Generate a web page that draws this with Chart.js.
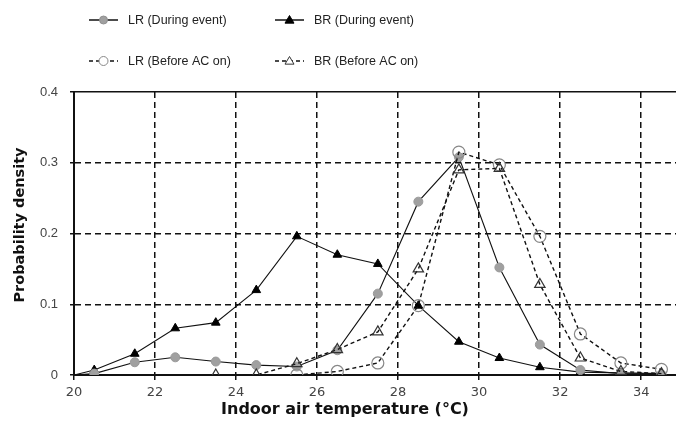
<!DOCTYPE html>
<html>
<head>
<meta charset="utf-8">
<script src="https://cdn.jsdelivr.net/npm/chart.js@4.4.1/dist/chart.umd.min.js"></script>
<style>
  html, body { margin: 0; padding: 0; background: #fff; }
  #wrap { width: 676px; height: 428px; position: relative; }
</style>
</head>
<body>
<div id="wrap"><canvas id="pdfChart"></canvas></div>
<script>
// values (temperature bin centres, °C)
const temps = [20, 20.5, 21.5, 22.5, 23.5, 24.5, 25.5, 26.5, 27.5, 28.5, 29.5, 30.5, 31.5, 32.5, 33.5, 34.5];
const lrDuring = [0, 0.002, 0.018, 0.025, 0.019, 0.014, 0.012, 0.035, 0.115, 0.245, 0.308, 0.152, 0.043, 0.007, 0.002, 0.001];
const brDuring = [0, 0.007, 0.030, 0.066, 0.074, 0.120, 0.196, 0.170, 0.157, 0.098, 0.047, 0.024, 0.011, 0.004, 0.003, 0.002];
const lrBefore = [null, null, null, null, null, null, 0, 0.005, 0.017, 0.098, 0.315, 0.297, 0.196, 0.058, 0.017, 0.008];
const brBefore = [null, null, null, null, 0, 0, 0.016, 0.036, 0.061, 0.150, 0.290, 0.292, 0.128, 0.024, 0.005, 0.002];

const xTicks = [20, 22, 24, 26, 28, 30, 32, 34];
const yTicks = [0, 0.1, 0.2, 0.3, 0.4];

const seriesNames = ['LR (During event)', 'BR (During event)', 'LR (Before AC on)', 'BR (Before AC on)'];
const xTitle = 'Indoor air temperature (°C)';
const yTitle = 'Probability density';

function pts(vals) {
    return temps.map((t, i) => ({ x: t, y: vals[i] })).filter(p => p.y !== null);
}
// no marker on the origin point of the "during" lines
const noFirst = (r) => (ctx) => ctx.dataIndex === 0 ? 0 : r;

// legend + axis titles drawn by hand
const legendPlugin = {
    id: 'lineLegend',
    afterDraw(chart) {
        const c = chart.ctx;
        const items = [
            { x: 89, y: 20, dash: [], marker: 'circle', fill: '#a0a0a0', stroke: '#909090', r: 4 },
            { x: 275, y: 20, dash: [], marker: 'triangle', fill: '#000', stroke: '#000', r: 4.5 },
            { x: 89, y: 61, dash: [4, 3], marker: 'circle', fill: '#fff', stroke: '#888', r: 4.5 },
            { x: 275, y: 61, dash: [4, 3], marker: 'triangle', fill: '#fff', stroke: '#333', r: 4.5 }
        ];
        c.save();
        items.forEach((it, i) => {
            c.strokeStyle = '#111';
            c.lineWidth = 1.5;
            c.setLineDash(it.dash);
            c.beginPath();
            c.moveTo(it.x, it.y);
            c.lineTo(it.x + 29, it.y);
            c.stroke();
            c.setLineDash([]);
            const mx = it.x + 14.5;
            c.fillStyle = it.fill;
            c.strokeStyle = it.stroke;
            c.lineWidth = 1;
            c.beginPath();
            if (it.marker === 'circle') {
                c.arc(mx, it.y, it.r, 0, Math.PI * 2);
            } else {
                c.moveTo(mx, it.y - it.r);
                c.lineTo(mx + it.r, it.y + it.r * 0.7);
                c.lineTo(mx - it.r, it.y + it.r * 0.7);
                c.closePath();
            }
            c.fill();
            c.stroke();
            c.fillStyle = '#222';
            c.font = '12.5px "Liberation Sans", Arial, sans-serif';
            c.textBaseline = 'middle';
            c.textAlign = 'left';
            c.fillText(seriesNames[i], it.x + 39, it.y + 1);
        });

        c.fillStyle = '#111';
        c.textAlign = 'center';
        c.textBaseline = 'middle';
        c.font = 'bold 16px "DejaVu Sans", sans-serif';
        c.fillText(xTitle, 345, 410);
        c.translate(20, 225);
        c.rotate(-Math.PI / 2);
        c.font = 'bold 14.5px "DejaVu Sans", sans-serif';
        c.fillText(yTitle, 0, 0);
        c.restore();
    }
};

const ctx = document.getElementById('pdfChart').getContext('2d');
const chart = new Chart(ctx, {
    type: 'line',
    data: {
        datasets: [
            {
                label: seriesNames[3], data: pts(brBefore),
                borderColor: '#111', borderWidth: 1.4, borderDash: [4, 3],
                pointStyle: 'triangle', pointRadius: 6, pointBackgroundColor: 'rgba(255,255,255,0)',
                pointBorderColor: '#333', pointBorderWidth: 1.2
            },
            {
                label: seriesNames[2], data: pts(lrBefore),
                borderColor: '#111', borderWidth: 1.4, borderDash: [4, 3],
                pointStyle: 'circle', pointRadius: 6, pointBackgroundColor: 'rgba(255,255,255,0)',
                pointBorderColor: '#888', pointBorderWidth: 1.2
            },
            {
                label: seriesNames[0], data: pts(lrDuring),
                borderColor: '#111', borderWidth: 1.1,
                pointStyle: 'circle', pointRadius: noFirst(4.5), pointBackgroundColor: '#a0a0a0',
                pointBorderColor: '#999', pointBorderWidth: 1
            },
            {
                label: seriesNames[1], data: pts(brDuring),
                borderColor: '#111', borderWidth: 1.1,
                pointStyle: 'triangle', pointRadius: noFirst(5), pointBackgroundColor: '#000',
                pointBorderColor: '#000', pointBorderWidth: 1
            }
        ]
    },
    options: {
        responsive: true,
        maintainAspectRatio: false,
        animation: false,
        layout: { autoPadding: false, padding: { top: 92, right: 0, bottom: 0, left: 0 } },
        plugins: { legend: { display: false }, tooltip: { enabled: false } },
        elements: { line: { tension: 0 } },
        scales: {
            x: {
                type: 'linear',
                min: 20, max: 34.86,
                afterFit: (s) => { s.height = 53; s.paddingLeft = 0; s.paddingRight = 0; },
                afterBuildTicks: (s) => { s.ticks = xTicks.map(v => ({ value: v })); },
                ticks: {
                    color: '#444', padding: 5,
                    font: { family: '"DejaVu Sans", sans-serif', size: 13 },
                    callback: (v) => String(v)
                },
                grid: {
                    color: '#111', lineWidth: 1.5, drawTicks: true, tickLength: 5,
                    tickColor: '#111', tickBorderDash: []
                },
                border: { color: '#111', width: 2, dash: [6, 4] }
            },
            y: {
                min: 0, max: 0.4,
                afterFit: (s) => { s.width = 74; },
                afterBuildTicks: (s) => { s.ticks = yTicks.map(v => ({ value: v })); },
                ticks: {
                    color: '#444', padding: 12,
                    font: { family: '"Liberation Sans", Arial, sans-serif', size: 13 },
                    callback: (v) => String(v)
                },
                grid: {
                    color: '#111', lineWidth: 1.5, drawTicks: true, tickLength: 4,
                    tickColor: '#111', tickBorderDash: []
                },
                border: {
                    color: '#111', width: 2,
                    dash: (c) => (c.tick && c.tick.value >= 0.4) ? [] : [6, 4]
                }
            }
        }
    },
    plugins: [legendPlugin]
});
</script>
</body>
</html>
